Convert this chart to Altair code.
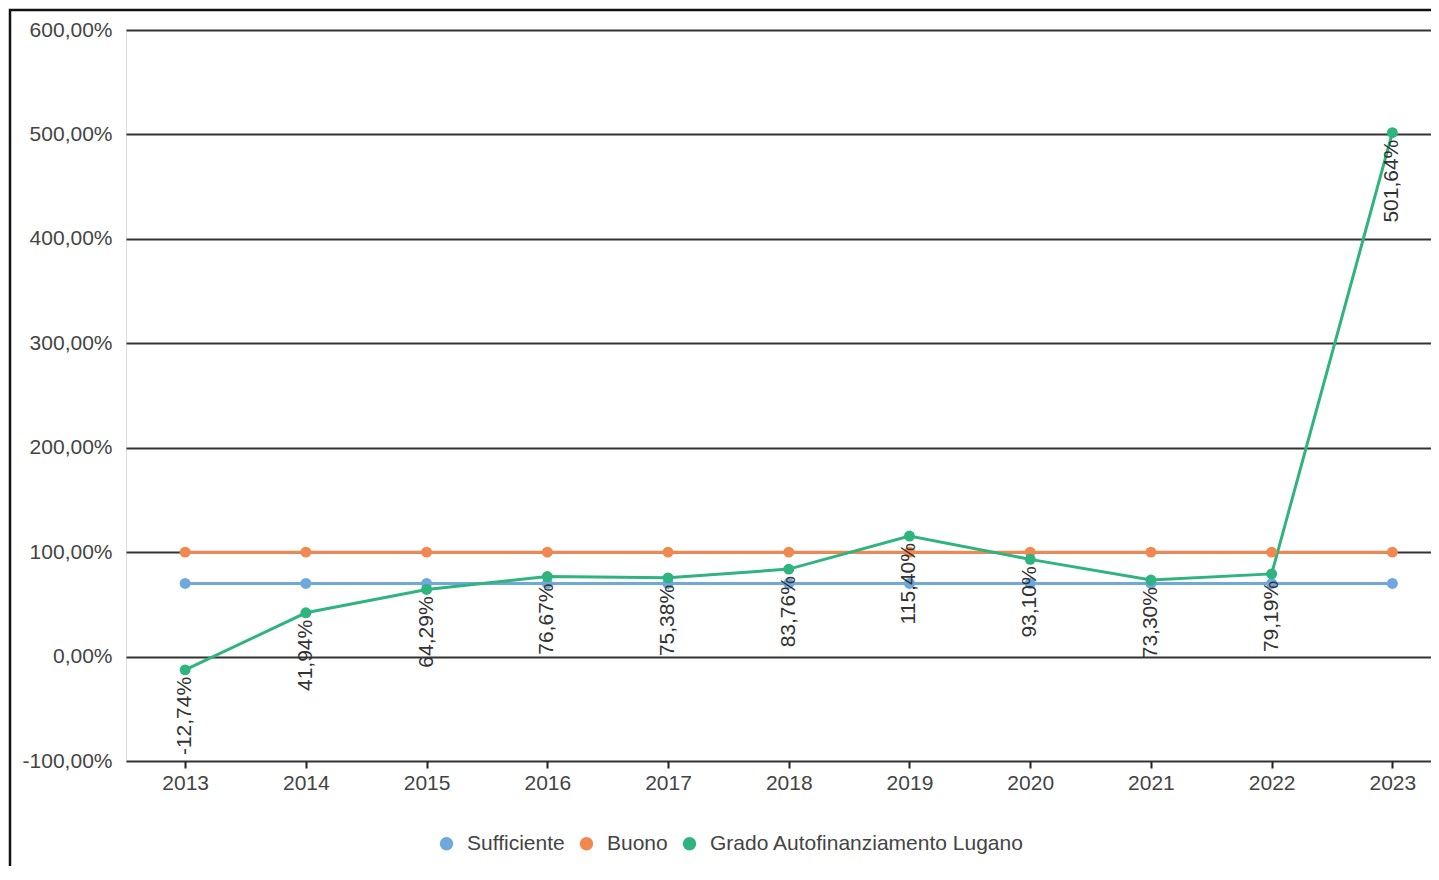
import altair as alt
import pandas as pd

years = [2013, 2014, 2015, 2016, 2017, 2018, 2019, 2020, 2021, 2022, 2023]
sufficiente = [70, 70, 70, 70, 70, 70, 70, 70, 70, 70, 70]
buono = [100, 100, 100, 100, 100, 100, 100, 100, 100, 100, 100]
grado = [-12.74, 41.94, 64.29, 76.67, 75.38, 83.76, 115.40, 93.10, 73.30, 79.19, 501.64]
series_names = ["Sufficiente", "Buono", "Grado Autofinanziamento Lugano"]
series_colors = ["#6FA8DC", "#F1884F", "#2FB37F"]
y_ticks = [-100, 0, 100, 200, 300, 400, 500, 600]


def fmt(v):
    return f"{v:.2f}".replace(".", ",") + "%"


rows = []
for i, (name, vals) in enumerate(zip(series_names, [sufficiente, buono, grado])):
    for yr, v in zip(years, vals):
        rows.append({"series": name, "order": i, "year": yr, "value": v, "label": fmt(v)})
df = pd.DataFrame(rows)

W = 1305
H = 731
FONT = "Liberation Sans"

x_enc = alt.X(
    "year:Q",
    scale=alt.Scale(domain=[2012.51, 2023.32], nice=False, zero=False),
    axis=alt.Axis(
        values=years, format="d", title=None, grid=False, domain=False,
        tickSize=7, tickColor="#222222", tickWidth=2, labelPadding=4,
        labelFontSize=21, labelColor="#444444", labelFont=FONT, labelFlush=False,
    ),
)
y_enc = alt.Y(
    "value:Q",
    scale=alt.Scale(domain=[-100, 600], nice=False, zero=False),
    axis=alt.Axis(
        values=y_ticks, title=None, domain=False, ticks=False, grid=True,
        gridColor="#333333", gridWidth=2, labelPadding=14,
        labelFontSize=21, labelColor="#444444", labelFont=FONT,
        labelExpr="(datum.value < 0 ? '-' : '') + replace(format(abs(datum.value), '.2f'), '.', ',') + '%'",
    ),
)
color_enc = alt.Color(
    "series:N",
    scale=alt.Scale(domain=series_names, range=series_colors),
    legend=alt.Legend(
        title=None, orient="none", legendX=310, legendY=803,
        direction="horizontal", symbolType="circle",
        symbolSize=180, symbolStrokeWidth=0, symbolOpacity=1, labelFontSize=21,
        labelFont=FONT, labelColor="#444444", columnPadding=11, labelOffset=10,
        labelLimit=0,
    ),
)

base = alt.Chart(df)

frame = alt.Chart(pd.DataFrame({"k": [0]})).mark_rect(
    filled=False, stroke="#111111", strokeWidth=2.5
).encode(
    x=alt.value(-116), x2=alt.value(W + 100),
    y=alt.value(-20), y2=alt.value(H + 300),
)

lines = base.mark_line(strokeWidth=3).encode(
    x=x_enc, y=y_enc, color=color_enc, order=alt.Order("year:Q"),
)
points = base.mark_circle(size=120, opacity=1).encode(
    x=x_enc, y=y_enc, color=color_enc,
)
labels = base.transform_filter(alt.datum.series == series_names[2]).mark_text(
    angle=270, align="right", baseline="middle", dx=-7,
    fontSize=21, font=FONT, color="#333333",
).encode(x=x_enc, y=y_enc, text="label:N")

chart = alt.layer(frame, lines, points, labels).properties(
    width=W, height=H,
    autosize=alt.AutoSizeParams(type="none"),
    padding={"left": 118, "top": 22, "right": 0, "bottom": 105},
).configure_view(stroke=None).configure(font=FONT)

chart.save("out.html", embed_options={"renderer": "svg", "actions": False})
